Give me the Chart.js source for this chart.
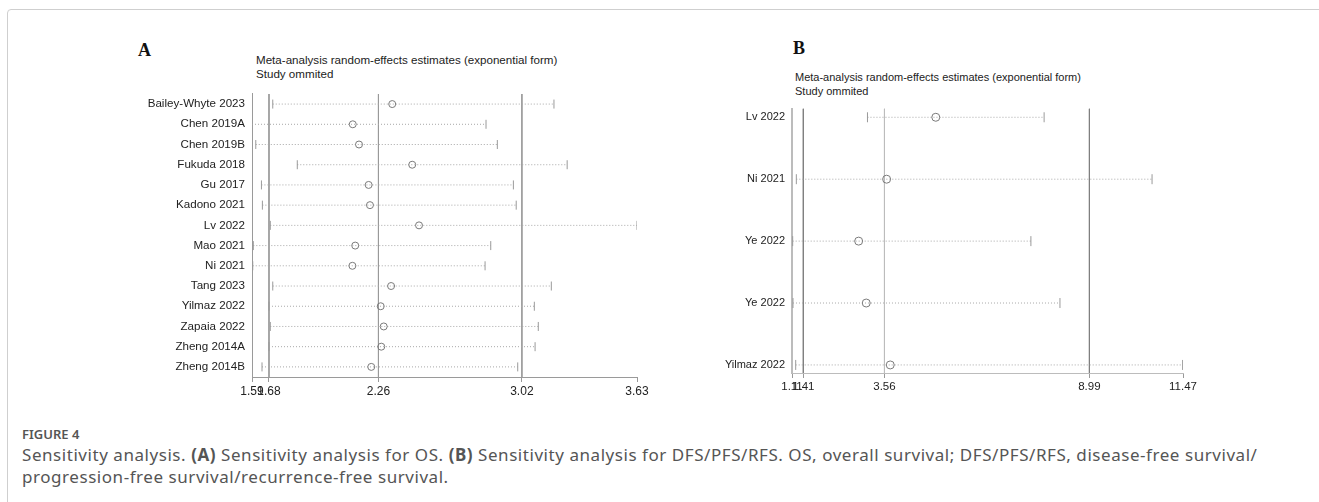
<html>
    <head>
        <meta charset="UTF-8">
        <script src="https://cdn.jsdelivr.net/npm/chart.js@4.4.1/dist/chart.umd.min.js"></script>
        <style>
            body { margin:0; background:#fff; width:1319px; height:502px; overflow:hidden; position:relative; font-family:"Liberation Sans", Arial, sans-serif; }
            .frame { position:absolute; left:7px; top:9px; width:1330px; height:520px; border:1px solid #cfcfcf; border-radius:4px; }
            .letter { position:absolute; font-family:"Liberation Serif", "Times New Roman", serif; font-weight:bold; font-size:18px; color:#111; }
            .ttl { position:absolute; font-size:11.6px; line-height:14px; color:#222; white-space:nowrap; }
            .cv { position:absolute; }
            .fig { position:absolute; left:22px; top:425px; font-family:"Noto Sans", sans-serif; font-size:13px; font-weight:600; color:#555; }
            .cap { position:absolute; left:22px; top:444px; width:1295px; font-family:"Noto Sans", sans-serif; font-size:17px; line-height:22px; color:#555; letter-spacing:0.55px; white-space:nowrap; }
        </style>
        <script>
            // panel A - OS
            var studiesA = ["Bailey-Whyte 2023", "Chen 2019A", "Chen 2019B", "Fukuda 2018", "Gu 2017", "Kadono 2021", "Lv 2022",
                            "Mao 2021", "Ni 2021", "Tang 2023", "Yilmaz 2022", "Zapaia 2022", "Zheng 2014A", "Zheng 2014B"];
            var lowA  = [1.70, 1.59, 1.61, 1.83, 1.64, 1.645, 1.687, 1.597, 1.594, 1.70, 1.68, 1.687, 1.68, 1.643];
            var estA  = [2.333, 2.124, 2.157, 2.439, 2.208, 2.215, 2.475, 2.137, 2.122, 2.327, 2.272, 2.288, 2.275, 2.222];
            var highA = [3.19, 2.83, 2.89, 3.26, 2.975, 2.99, 3.63, 2.855, 2.825, 3.176, 3.086, 3.107, 3.09, 2.998];
            var ticksA = [1.59, 1.68, 2.26, 3.02, 3.63];
            var refA = [1.68, 2.26, 3.02];

            // panel B - DFS/PFS/RFS
            var studiesB = ["Lv 2022", "Ni 2021", "Ye 2022", "Ye 2022", "Yilmaz 2022"];
            var lowB  = [3.11, 1.225, 1.128, 1.136, 1.208];
            var estB  = [4.92, 3.617, 2.876, 3.077, 3.713];
            var highB = [7.79, 10.65, 7.44, 8.21, 11.46];
            var ticksB = [1.11, 1.41, 3.56, 8.99, 11.47];
            var refB = [1.41, 3.56, 8.99];
            var refColB = ['#808080', '#bdbdbd', '#808080'];

            function forest(id, studies, low, est, high, tks, refs, refCols, o){
                var ds = [];
                ds.push({
                    data: est.map((v,i)=>({x:v, y:i+1})),
                    showLine:false, pointStyle:'circle', pointRadius:o.circ,
                    pointBackgroundColor:'rgba(255,255,255,0)', pointBorderColor:'#7a7a7a', pointBorderWidth:1
                });
                for(var i=0;i<studies.length;i++){
                    ds.push({
                        data:[{x:low[i], y:i+1}, {x:high[i], y:i+1}],
                        showLine:true, borderColor:'#a8a8a8', borderWidth:1, borderDash:[1,2],
                        pointStyle:'line', rotation:90, pointRadius:o.tick,
                        pointBorderColor:'#9a9a9a', pointBorderWidth:1
                    });
                }
                refs.forEach(function(r,j){
                    ds.push({
                        data:[{x:r, y:o.ymin}, {x:r, y:o.ymax}],
                        showLine:true, borderColor:refCols[j], borderWidth:1, pointRadius:0
                    });
                });
                new Chart(document.getElementById(id), {
                    type:'scatter',
                    data:{datasets:ds},
                    options:{
                        responsive:false, animation:false,
                        layout:{padding:{top:7, right:20, left:0, bottom:0}},
                        plugins:{legend:{display:false}, tooltip:{enabled:false}},
                        scales:{
                            x:{
                                type:'linear', min:tks[0], max:tks[tks.length-1],
                                afterBuildTicks:function(s){ s.ticks = tks.map(v=>({value:v})); },
                                afterFit:function(s){ s.height = 25; },
                                ticks:{autoSkip:false, maxRotation:0, padding:2, color:'#222',
                                       font:{family:'Liberation Sans', size:o.xfs},
                                       callback:function(v){ return v.toFixed(2); }},
                                grid:{drawOnChartArea:false, tickLength:5, color:'#999'},
                                border:{color:o.axCol, width:1}
                            },
                            y:{
                                type:'linear', reverse:true, min:o.ymin, max:o.ymax,
                                afterBuildTicks:function(s){ s.ticks = studies.map((n,i)=>({value:i+1})); },
                                afterFit:function(s){ s.width = o.yw; },
                                ticks:{autoSkip:false, padding:7, color:'#222',
                                       font:{family:'Liberation Sans', size:o.fs},
                                       callback:function(v){ return studies[v-1]; }},
                                grid:{display:false, drawTicks:false},
                                border:{color:o.axCol, width:o.axW}
                            }
                        }
                    }
                });
            }

            window.onload = function(){
                forest('chartA', studiesA, lowA, estA, highA, ticksA, refA, ['#9a9a9a','#9a9a9a','#9a9a9a'],
                       {ymin:0.5, ymax:14.5, yw:132, fs:11.6, xfs:12, circ:3.5, tick:4.5, axCol:'#9a9a9a', axW:1});
                forest('chartB', studiesB, lowB, estB, highB, ticksB, refB, refColB,
                       {ymin:0.86, ymax:5.13, yw:92, fs:11, xfs:11.5, circ:4, tick:5, axCol:'#bcbcbc', axW:2});
            };
        </script>
    </head>
    <body>
        <div class="frame"></div>

        <div class="letter" style="left:138px; top:40px;">A</div>
        <div class="ttl" style="left:256px; top:53px;">Meta-analysis random-effects estimates (exponential form)<br>Study ommited</div>
        <canvas id="chartA" class="cv" style="left:120px; top:80px;" width="537" height="322"></canvas>

        <div class="letter" style="left:793px; top:38px;">B</div>
        <div class="ttl" style="left:795px; top:70px; font-size:11px;">Meta-analysis random-effects estimates (exponential form)<br>Study ommited</div>
        <canvas id="chartB" class="cv" style="left:700px; top:95px;" width="503" height="303"></canvas>

        <div class="fig">FIGURE 4</div>
        <div class="cap">Sensitivity analysis. <b>(A)</b> Sensitivity analysis for OS. <b>(B)</b> Sensitivity analysis for DFS/PFS/RFS. OS, overall survival; DFS/PFS/RFS, disease-free survival/<br>progression-free survival/recurrence-free survival.</div>
    </body>
</html>
